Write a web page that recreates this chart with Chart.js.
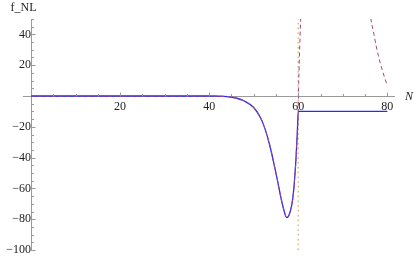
<!DOCTYPE html>
<html>
<head>
<meta charset="utf-8">
<script src="https://cdn.jsdelivr.net/npm/chart.js@4.4.1/dist/chart.umd.min.js"></script>
<style>
  html, body { margin: 0; padding: 0; background: #fff; }
  #wrap { width: 415px; height: 256px; }
</style>
</head>
<body>
<div id="wrap"><canvas id="chart"></canvas></div>
<script>
// solid blue curve (full solution)
const nBlue = [0, 10, 20, 30, 40, 42, 44, 46, 48, 50, 51.5, 52.5, 53.6, 55.1, 56.5, 57.45, 58.2, 58.8, 59.4, 59.8, 60, 80];
const fBlue = [0, 0, 0, 0, 0, -0.1, -0.4, -1.3, -3.4, -7.5, -14, -21, -32, -51.5, -71, -79, -75, -66, -45, -23, -10, -10];

// dashed purple curve (approximation), gap between the two branches
const nPurple = [0, 10, 20, 30, 40, 42, 44, 46, 48, 50, 51.5, 52.5, 53.6, 55.1, 56.5, 57.45, 58.2, 58.8, 59.4, 59.8, 60, 60.1, 60.25, 60.4, 60.55, 60.7,
                 68, 76, 76.5, 77, 77.5, 78, 78.5, 79, 79.5, 80];
const fPurple = [0, 0, 0, 0, 0, -0.1, -0.4, -1.3, -3.4, -7.5, -14, -21, -32, -51.5, -71, -79, -75, -66, -45, -23, -10, 8, 24, 38, 50, 62,
                 null, 55, 47, 40, 32.5, 26, 20.5, 15.5, 11, 6.7];

// dotted vertical marker
const nMark = [60, 60];
const fMark = [-100, 50];

const xTickVals = [0, 5, 10, 15, 20, 25, 30, 35, 40, 45, 50, 55, 60, 65, 70, 75, 80];
const yTickVals = [-100, -95, -90, -85, -80, -75, -70, -65, -60, -55, -50, -45, -40, -35, -30, -25, -20, -15, -10, -5,
                   0, 5, 10, 15, 20, 25, 30, 35, 40, 45, 50];

const pts = (xs, ys) => xs.map((x, i) => ({ x: x, y: ys[i] }));
const fmt = v => (v < 0 ? '\u2212' + Math.abs(v) : String(v));
const isMajor = v => v !== 0 && v % 20 === 0;
const noPad = s => { s.paddingTop = 0; s.paddingBottom = 0; s.paddingLeft = 0; s.paddingRight = 0; };

const axisTicks = {
    id: 'axisTicks',
    afterDraw(chart) {
        const ctx = chart.ctx;
        const xs = chart.scales.x, ys = chart.scales.y;
        const x0 = Math.round(xs.getPixelForValue(0)) + 0.5;
        const y0 = Math.round(ys.getPixelForValue(0)) + 0.5;
        ctx.save();
        ctx.strokeStyle = '#9a9a9a';
        ctx.lineWidth = 1;
        ctx.beginPath();
        xs.ticks.forEach(t => {
            if (t.value === 0) return;
            const px = Math.round(xs.getPixelForValue(t.value)) + 0.5;
            ctx.moveTo(px, y0);
            ctx.lineTo(px, y0 - (isMajor(t.value) ? 4 : 2.5));
        });
        ys.ticks.forEach(t => {
            if (t.value === 0) return;
            const py = Math.round(ys.getPixelForValue(t.value)) + 0.5;
            ctx.moveTo(x0, py);
            ctx.lineTo(x0 + (isMajor(t.value) ? 4 : 2.5), py);
        });
        ctx.stroke();

        ctx.fillStyle = '#222';
        ctx.font = '12px "Liberation Serif"';
        ctx.textAlign = 'center';
        ctx.textBaseline = 'middle';
        ctx.fillText('f_NL', x0 - 8, 8);
        ctx.font = 'italic 12px "Liberation Serif"';
        ctx.textAlign = 'left';
        ctx.fillText('N', chart.chartArea.right + 11, y0);
        ctx.restore();
    }
};

new Chart(document.getElementById('chart').getContext('2d'), {
    type: 'line',
    data: {
        datasets: [
            {
                data: pts(nPurple, fPurple),
                borderColor: '#a8457e',
                borderWidth: 1,
                borderDash: [4, 3],
                pointRadius: 0,
                cubicInterpolationMode: 'monotone',
                spanGaps: false
            },
            {
                data: pts(nBlue, fBlue),
                borderColor: '#2a2af2',
                borderWidth: 1.3,
                pointRadius: 0,
                cubicInterpolationMode: 'monotone'
            },
            {
                data: pts(nMark, fMark),
                borderColor: '#dcc184',
                borderWidth: 1.6,
                borderDash: [1.6, 3.2],
                pointRadius: 0
            }
        ]
    },
    options: {
        responsive: true,
        maintainAspectRatio: false,
        animation: false,
        layout: { padding: { left: 23, right: 21, top: 19, bottom: 6 } },
        plugins: {
            legend: { display: false },
            tooltip: { enabled: false }
        },
        scales: {
            x: {
                type: 'linear',
                position: { y: 0 },
                min: -1.8,
                max: 81.5,
                afterBuildTicks: s => { s.ticks = xTickVals.map(v => ({ value: v })); },
                afterFit: noPad,
                grid: { display: false, drawTicks: false },
                border: { display: true, color: '#9a9a9a', width: 1 },
                ticks: {
                    autoSkip: false,
                    maxRotation: 0,
                    padding: 5,
                    color: '#222',
                    font: { family: 'Liberation Serif', size: 12, lineHeight: 1 },
                    callback: v => (isMajor(v) ? fmt(v) : '')
                }
            },
            y: {
                type: 'linear',
                position: { x: 0 },
                min: -100,
                max: 50,
                afterBuildTicks: s => { s.ticks = yTickVals.map(v => ({ value: v })); },
                afterFit: noPad,
                grid: { display: false, drawTicks: false },
                border: { display: true, color: '#9a9a9a', width: 1 },
                ticks: {
                    autoSkip: false,
                    padding: 4,
                    color: '#222',
                    font: { family: 'Liberation Serif', size: 12, lineHeight: 1 },
                    callback: v => (isMajor(v) ? fmt(v) : '')
                }
            }
        }
    },
    plugins: [axisTicks]
});
</script>
</body>
</html>
